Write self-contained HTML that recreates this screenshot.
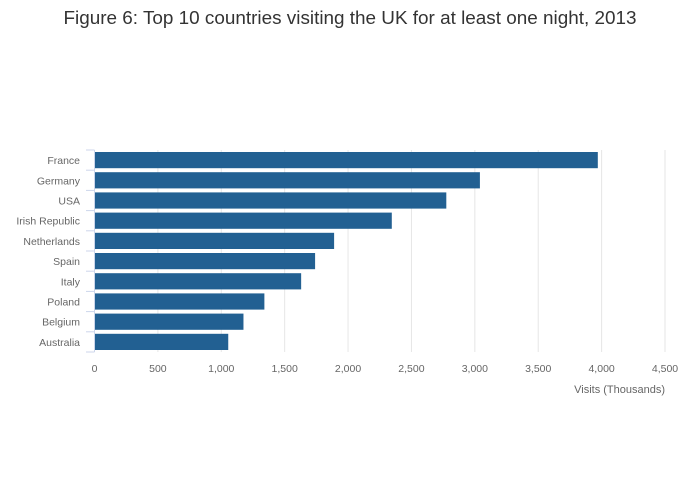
<!DOCTYPE html>
<html><head><meta charset="utf-8"><style>
body{margin:0;background:#fff;font-family:"Liberation Sans",sans-serif}
svg{display:block}
</style></head><body>
<svg id="chart" width="700" height="502">
<text x="350" y="24" text-anchor="middle" font-size="18.9" fill="#333">Figure 6: Top 10 countries visiting the UK for at least one night, 2013</text>
<g id="grid"></g><g id="bars"></g><g id="axes"></g>
<text x="665" y="393" text-anchor="end" font-size="11" fill="#666">Visits (Thousands)</text>
</svg>
<script>
const categories=["France","Germany","USA","Irish Republic","Netherlands","Spain","Italy","Poland","Belgium","Australia"];
const values=[3970,3040,2775,2345,1890,1740,1630,1340,1175,1055];
const xTicks=[0,500,1000,1500,2000,2500,3000,3500,4000,4500];
const xTickLabels=["0","500","1,000","1,500","2,000","2,500","3,000","3,500","4,000","4,500"];
const NS="http://www.w3.org/2000/svg";
const x0=94.5,x1=665,y0=150,y1=352,xMax=4500;
const band=(y1-y0)/categories.length;
const xs=v=>x0+(v/xMax)*(x1-x0);
const ys=i=>y0+i*band;
function mk(t,a,p){const e=document.createElementNS(NS,t);for(const k in a)e.setAttribute(k,a[k]);p.appendChild(e);return e;}
const grid=document.getElementById('grid'),bars=document.getElementById('bars'),axes=document.getElementById('axes');
xTicks.forEach((v,i)=>{
 if(i>0){const l=mk('line',{x1:xs(v),x2:xs(v),y1:y0,y2:y1,stroke:'#e6e6e6','stroke-width':1},grid);
 
 }
 const t=mk('text',{x:xs(v),y:372,'text-anchor':'middle','font-size':10.5,fill:'#666'},axes);
 t.textContent=xTickLabels[i];
 
 
});
categories.forEach((c,i)=>{
 const r=mk('rect',{x:x0+0.5,y:ys(i)+2,width:xs(values[i])-x0-0.5,height:band-4,fill:'#226092'},bars);
 
 
 const t=mk('text',{x:80,y:ys(i)+band/2+4,'text-anchor':'end','font-size':10.5,fill:'#666'},axes);
 t.textContent=c;
 
 
});
for(let i=0;i<=categories.length;i++){
 const l=mk('line',{x1:86,x2:x0,y1:ys(i),y2:ys(i),stroke:'#ccd6eb','stroke-width':1},axes);
 
 
}
const ax=mk('line',{x1:x0,x2:x0,y1:y0,y2:y1,stroke:'#ccd6eb','stroke-width':1},axes);


</script>
</body></html>
